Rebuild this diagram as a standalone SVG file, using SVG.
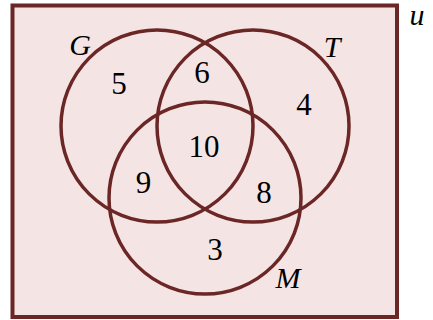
<svg xmlns="http://www.w3.org/2000/svg" width="433" height="320" viewBox="0 0 433 320">
<style>
.box{fill:#f5e4e4;stroke:#6b2626;stroke-width:4}
.set{fill:none;stroke:#6b2626;stroke-width:3.5}
text{font-family:'Liberation Serif','DejaVu Serif',serif;fill:#000;text-anchor:middle}
.num{font-size:31px}
.lbl{font-size:30px;font-style:italic}
</style>
<g id="universe">
<rect class="box" x="12.5" y="5.5" width="384.5" height="311.5"/>
<text class="lbl" x="417" y="25" font-size="28">u</text>
</g>
<g id="G">
<circle class="set" cx="157" cy="126" r="96"/>
<text class="lbl" x="80" y="55">G</text>
</g>
<g id="T">
<circle class="set" cx="253" cy="126" r="96"/>
<text class="lbl" x="332" y="57">T</text>
</g>
<g id="M">
<circle class="set" cx="205" cy="198" r="96"/>
<text class="lbl" x="288" y="288">M</text>
</g>
<g id="regions">
<text class="num" x="119" y="94">5</text>
<text class="num" x="202" y="83">6</text>
<text class="num" x="304" y="115">4</text>
<text class="num" x="204" y="157">10</text>
<text class="num" x="143.5" y="193">9</text>
<text class="num" x="264" y="203">8</text>
<text class="num" x="215" y="260">3</text>
</g>
<g id="connectors"/>
</svg>
